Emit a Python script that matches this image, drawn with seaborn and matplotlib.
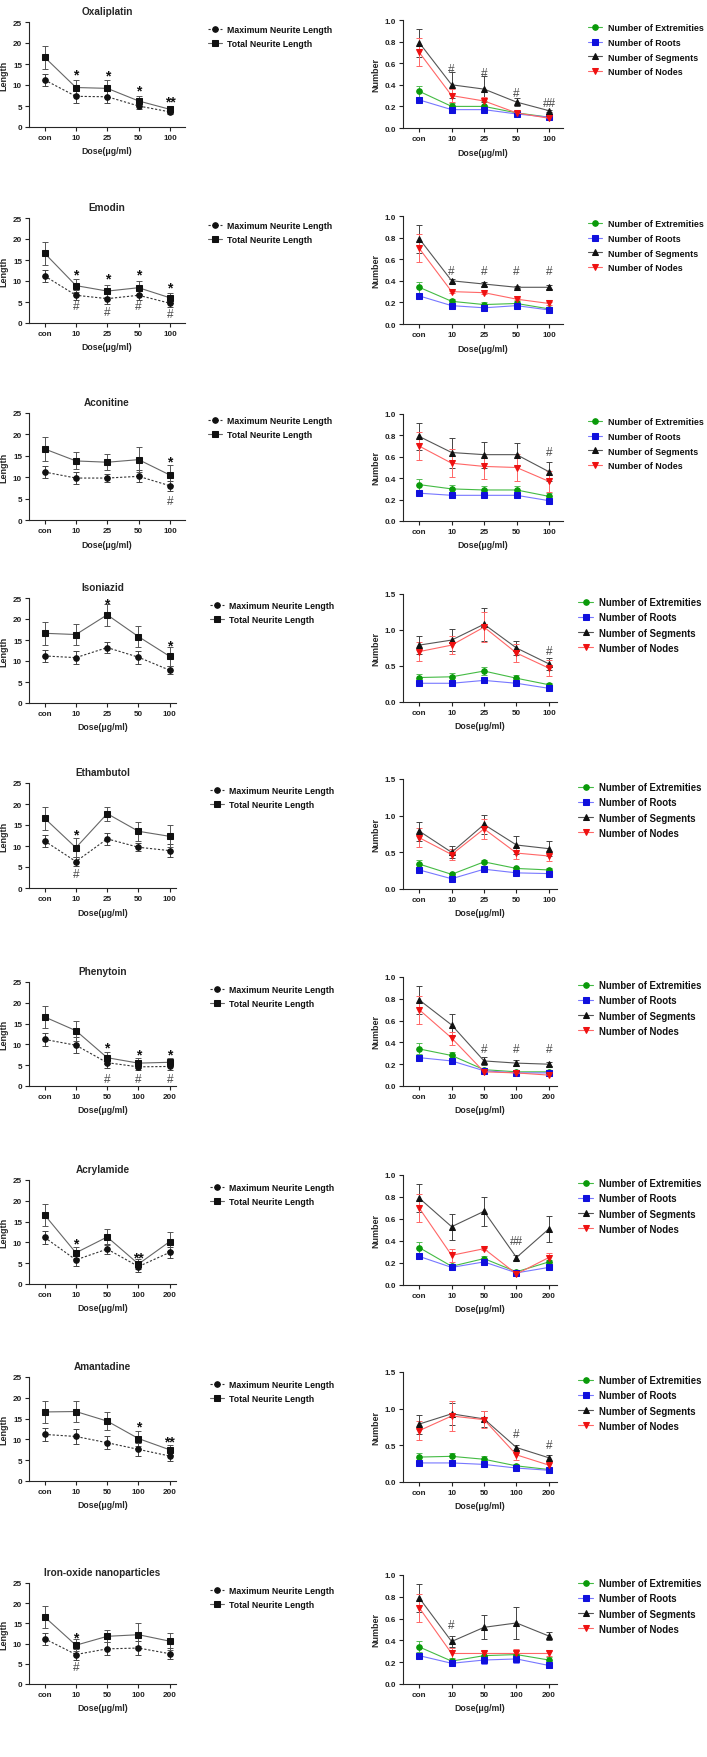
import matplotlib

matplotlib.use("Agg")
import matplotlib.pyplot as plt
import seaborn as sns

# ---- data ----
DRUGS = [
    "Oxaliplatin", "Emodin", "Aconitine", "Isoniazid", "Ethambutol",
    "Phenytoin", "Acrylamide", "Amantadine", "Iron-oxide nanoparticles",
]
DOSES_A = ["con", "10", "25", "50", "100"]
DOSES_B = ["con", "10", "50", "100", "200"]
DOSE_LABELS = {d: DOSES_A for d in DRUGS[:5]}
DOSE_LABELS.update({d: DOSES_B for d in DRUGS[5:]})

MAX_LEN = {
    "Oxaliplatin": [11.2, 7.3, 7.2, 5.0, 3.6],
    "Emodin": [11.2, 6.6, 5.8, 6.6, 4.7],
    "Aconitine": [11.2, 9.8, 9.8, 10.2, 8.0],
    "Isoniazid": [11.2, 10.8, 13.2, 10.9, 7.8],
    "Ethambutol": [11.2, 6.3, 11.7, 9.7, 8.9],
    "Phenytoin": [11.2, 9.8, 5.6, 4.6, 4.7],
    "Acrylamide": [11.2, 5.8, 8.4, 4.2, 7.6],
    "Amantadine": [11.2, 10.7, 9.2, 7.6, 6.0],
    "Iron-oxide nanoparticles": [11.2, 7.3, 8.7, 8.9, 7.5],
}
MAX_ERR = {
    "Oxaliplatin": [1.5, 1.5, 1.6, 0.8, 0.5],
    "Emodin": [1.5, 1.2, 1.2, 1.2, 0.8],
    "Aconitine": [1.5, 1.4, 1.0, 1.4, 1.2],
    "Isoniazid": [1.5, 1.6, 1.3, 1.5, 1.0],
    "Ethambutol": [1.5, 1.0, 1.5, 1.0, 1.6],
    "Phenytoin": [1.5, 1.9, 1.2, 0.8, 0.9],
    "Acrylamide": [1.5, 1.4, 1.2, 1.2, 1.4],
    "Amantadine": [1.5, 1.7, 1.5, 1.5, 1.3],
    "Iron-oxide nanoparticles": [1.5, 1.3, 1.6, 1.7, 1.3],
}
TOTAL_LEN = {
    "Oxaliplatin": [16.6, 9.4, 9.2, 6.2, 4.2],
    "Emodin": [16.6, 8.9, 7.6, 8.4, 6.0],
    "Aconitine": [16.6, 13.8, 13.5, 14.1, 10.5],
    "Isoniazid": [16.6, 16.3, 21.0, 15.8, 11.1],
    "Ethambutol": [16.6, 9.6, 17.7, 13.5, 12.3],
    "Phenytoin": [16.6, 13.3, 6.8, 5.5, 5.7],
    "Acrylamide": [16.6, 7.5, 11.3, 4.8, 10.2],
    "Amantadine": [16.6, 16.7, 14.4, 10.2, 7.5],
    "Iron-oxide nanoparticles": [16.6, 9.6, 11.8, 12.2, 10.6],
}
TOTAL_ERR = {
    "Oxaliplatin": [2.7, 1.8, 2.0, 1.3, 0.8],
    "Emodin": [2.7, 1.6, 1.4, 1.5, 1.2],
    "Aconitine": [2.7, 2.0, 1.9, 2.9, 2.3],
    "Isoniazid": [2.7, 2.4, 2.6, 2.5, 2.2],
    "Ethambutol": [2.7, 2.2, 1.7, 2.3, 2.6],
    "Phenytoin": [2.7, 2.4, 1.4, 1.2, 1.0],
    "Acrylamide": [2.7, 1.5, 2.0, 1.2, 2.2],
    "Amantadine": [2.7, 2.6, 2.2, 1.7, 1.2],
    "Iron-oxide nanoparticles": [2.7, 1.5, 1.5, 2.8, 2.1],
}

EXTREMITIES = {
    "Oxaliplatin": [0.34, 0.20, 0.20, 0.14, 0.10],
    "Emodin": [0.34, 0.21, 0.18, 0.19, 0.14],
    "Aconitine": [0.34, 0.30, 0.29, 0.29, 0.23],
    "Isoniazid": [0.34, 0.35, 0.43, 0.33, 0.24],
    "Ethambutol": [0.34, 0.20, 0.37, 0.28, 0.26],
    "Phenytoin": [0.34, 0.28, 0.15, 0.13, 0.13],
    "Acrylamide": [0.34, 0.17, 0.24, 0.12, 0.21],
    "Amantadine": [0.34, 0.35, 0.31, 0.22, 0.17],
    "Iron-oxide nanoparticles": [0.34, 0.21, 0.26, 0.27, 0.22],
}
EXT_ERR = {
    "Oxaliplatin": [0.05, 0.03, 0.05, 0.02, 0.01],
    "Emodin": [0.05, 0.02, 0.02, 0.02, 0.01],
    "Aconitine": [0.05, 0.04, 0.04, 0.04, 0.03],
    "Isoniazid": [0.05, 0.05, 0.05, 0.04, 0.03],
    "Ethambutol": [0.05, 0.02, 0.02, 0.02, 0.02],
    "Phenytoin": [0.05, 0.03, 0.01, 0.01, 0.01],
    "Acrylamide": [0.05, 0.01, 0.02, 0.01, 0.02],
    "Amantadine": [0.05, 0.05, 0.05, 0.02, 0.02],
    "Iron-oxide nanoparticles": [0.05, 0.03, 0.04, 0.03, 0.03],
}
ROOTS = {
    "Oxaliplatin": [0.26, 0.17, 0.17, 0.13, 0.10],
    "Emodin": [0.26, 0.17, 0.15, 0.17, 0.13],
    "Aconitine": [0.26, 0.24, 0.24, 0.24, 0.19],
    "Isoniazid": [0.26, 0.26, 0.30, 0.26, 0.19],
    "Ethambutol": [0.26, 0.14, 0.27, 0.22, 0.21],
    "Phenytoin": [0.26, 0.23, 0.14, 0.12, 0.12],
    "Acrylamide": [0.26, 0.16, 0.21, 0.11, 0.16],
    "Amantadine": [0.26, 0.26, 0.24, 0.19, 0.16],
    "Iron-oxide nanoparticles": [0.26, 0.19, 0.22, 0.23, 0.17],
}
ROOTS_ERR = {
    "Oxaliplatin": [0.02, 0.02, 0.02, 0.02, 0.01],
    "Emodin": [0.02, 0.01, 0.01, 0.01, 0.01],
    "Aconitine": [0.02, 0.02, 0.02, 0.02, 0.01],
    "Isoniazid": [0.02, 0.02, 0.03, 0.02, 0.02],
    "Ethambutol": [0.02, 0.02, 0.02, 0.02, 0.02],
    "Phenytoin": [0.02, 0.02, 0.01, 0.01, 0.01],
    "Acrylamide": [0.02, 0.01, 0.01, 0.01, 0.01],
    "Amantadine": [0.02, 0.02, 0.02, 0.02, 0.02],
    "Iron-oxide nanoparticles": [0.02, 0.02, 0.04, 0.04, 0.02],
}
SEGMENTS = {
    "Oxaliplatin": [0.79, 0.40, 0.36, 0.24, 0.16],
    "Emodin": [0.79, 0.40, 0.37, 0.34, 0.34],
    "Aconitine": [0.79, 0.64, 0.62, 0.62, 0.46],
    "Isoniazid": [0.79, 0.86, 1.08, 0.75, 0.53],
    "Ethambutol": [0.79, 0.50, 0.88, 0.60, 0.55],
    "Phenytoin": [0.79, 0.56, 0.23, 0.21, 0.20],
    "Acrylamide": [0.79, 0.53, 0.67, 0.25, 0.51],
    "Amantadine": [0.79, 0.93, 0.86, 0.47, 0.33],
    "Iron-oxide nanoparticles": [0.79, 0.39, 0.52, 0.56, 0.44],
}
SEG_ERR = {
    "Oxaliplatin": [0.13, 0.12, 0.12, 0.04, 0.01],
    "Emodin": [0.13, 0.02, 0.02, 0.01, 0.02],
    "Aconitine": [0.13, 0.14, 0.12, 0.11, 0.09],
    "Isoniazid": [0.13, 0.15, 0.23, 0.10, 0.08],
    "Ethambutol": [0.13, 0.08, 0.13, 0.12, 0.10],
    "Phenytoin": [0.13, 0.10, 0.04, 0.03, 0.02],
    "Acrylamide": [0.13, 0.12, 0.13, 0.02, 0.12],
    "Amantadine": [0.13, 0.15, 0.11, 0.04, 0.04],
    "Iron-oxide nanoparticles": [0.13, 0.05, 0.11, 0.15, 0.04],
}
NODES = {
    "Oxaliplatin": [0.70, 0.30, 0.25, 0.14, 0.09],
    "Emodin": [0.70, 0.30, 0.29, 0.23, 0.19],
    "Aconitine": [0.70, 0.54, 0.51, 0.50, 0.37],
    "Isoniazid": [0.70, 0.79, 1.04, 0.68, 0.47],
    "Ethambutol": [0.70, 0.47, 0.82, 0.49, 0.45],
    "Phenytoin": [0.70, 0.44, 0.13, 0.12, 0.10],
    "Acrylamide": [0.70, 0.27, 0.33, 0.10, 0.25],
    "Amantadine": [0.70, 0.90, 0.85, 0.37, 0.23],
    "Iron-oxide nanoparticles": [0.70, 0.28, 0.28, 0.28, 0.28],
}
NODES_ERR = {
    "Oxaliplatin": [0.13, 0.06, 0.04, 0.02, 0.01],
    "Emodin": [0.13, 0.01, 0.01, 0.01, 0.01],
    "Aconitine": [0.13, 0.13, 0.12, 0.13, 0.10],
    "Isoniazid": [0.13, 0.13, 0.21, 0.13, 0.11],
    "Ethambutol": [0.13, 0.08, 0.14, 0.08, 0.07],
    "Phenytoin": [0.13, 0.06, 0.01, 0.01, 0.01],
    "Acrylamide": [0.13, 0.06, 0.01, 0.02, 0.04],
    "Amantadine": [0.13, 0.21, 0.12, 0.07, 0.05],
    "Iron-oxide nanoparticles": [0.13, 0.05, 0.02, 0.04, 0.02],
}
RIGHT_YMAX = {
    "Oxaliplatin": 1.0, "Emodin": 1.0, "Aconitine": 1.0, "Isoniazid": 1.5,
    "Ethambutol": 1.5, "Phenytoin": 1.0, "Acrylamide": 1.0, "Amantadine": 1.5,
    "Iron-oxide nanoparticles": 1.0,
}

# significance marks: (dose index, y, text)
LEFT_MARKS = {
    "Oxaliplatin": [(1, 13.4, "*"), (2, 13.2, "*"), (3, 9.7, "*"), (4, 7.0, "**")],
    "Emodin": [(1, 12.5, "*"), (2, 11.6, "*"), (3, 12.5, "*"), (4, 9.3, "*"),
               (1, 4.2, "#"), (2, 3.0, "#"), (3, 4.2, "#"), (4, 2.4, "#")],
    "Aconitine": [(4, 14.7, "*"), (4, 4.8, "#")],
    "Isoniazid": [(2, 24.6, "*"), (4, 14.7, "*")],
    "Ethambutol": [(1, 13.7, "*"), (1, 3.6, "#")],
    "Phenytoin": [(2, 10.2, "*"), (3, 8.5, "*"), (4, 8.5, "*"),
                  (2, 1.9, "#"), (3, 1.9, "#"), (4, 1.9, "#")],
    "Acrylamide": [(1, 10.7, "*"), (3, 7.4, "**")],
    "Amantadine": [(3, 14.0, "*"), (4, 10.5, "**")],
    "Iron-oxide nanoparticles": [(1, 12.4, "*"), (1, 4.4, "#")],
}
RIGHT_MARKS = {
    "Oxaliplatin": [(1, 0.56, "#"), (2, 0.52, "#"), (3, 0.33, "#"), (4, 0.24, "##")],
    "Emodin": [(1, 0.50, "#"), (2, 0.50, "#"), (3, 0.50, "#"), (4, 0.50, "#")],
    "Aconitine": [(4, 0.66, "#")],
    "Isoniazid": [(4, 0.72, "#")],
    "Ethambutol": [],
    "Phenytoin": [(2, 0.35, "#"), (3, 0.35, "#"), (4, 0.35, "#")],
    "Acrylamide": [(3, 0.41, "##")],
    "Amantadine": [(3, 0.67, "#"), (4, 0.52, "#")],
    "Iron-oxide nanoparticles": [(1, 0.55, "#")],
}

# ---- layout in output pixels (axis top tick, axis bottom) ----
W, H = 707, 1758
LEFT_ROWS = [(23, 128), (219, 324), (414, 521), (599, 704), (784, 889),
             (983, 1087), (1181, 1285), (1378, 1482), (1584, 1685)]
RIGHT_ROWS = [(21, 129), (217, 325), (415, 522), (595, 703), (780, 890),
              (978, 1087), (1176, 1286), (1373, 1483), (1576, 1685)]

sns.set_style("ticks")
plt.rcParams["font.family"] = ["Liberation Sans", "DejaVu Sans"]
plt.rcParams["axes.linewidth"] = 0.8

fig = plt.figure(figsize=(W / 100, H / 100), dpi=100)


def px_axes(x0, top, x1, bottom):
    return fig.add_axes([x0 / W, 1 - bottom / H, (x1 - x0) / W, (bottom - top) / H])


def style_axis(ax, labels, ymax, step, ylabel, xr, fmt):
    ax.set_xlim(-0.5, xr)
    ax.set_ylim(0, ymax)
    ax.set_xticks(range(len(labels)))
    ax.set_xticklabels(labels)
    ticks = [i * step for i in range(int(round(ymax / step)) + 1)]
    ax.set_yticks(ticks)
    ax.set_yticklabels([fmt.format(t) for t in ticks])
    sns.despine(ax=ax)
    ax.tick_params(direction="out", length=3, width=0.8, labelsize=5.9, pad=2,
                   colors="#222222")
    for lab in ax.get_xticklabels() + ax.get_yticklabels():
        lab.set_fontweight("bold")
    ax.set_xlabel("Dose(μg/ml)", fontsize=6.3, fontweight="bold", labelpad=4)
    ax.set_ylabel(ylabel, fontsize=6.5, fontweight="bold", labelpad=3)
    ax.grid(False)


def series(ax, x, y, err, color, line_color, err_color, marker, ms, ls, label):
    ax.errorbar(x, y, yerr=err, fmt="none", ecolor=err_color, elinewidth=0.7,
                capsize=2, capthick=0.7, zorder=2)
    sns.lineplot(x=x, y=y, ax=ax, color=line_color, marker=marker, markersize=ms,
                 markerfacecolor=color, markeredgecolor=color, linewidth=0.8,
                 linestyle=ls, label=label, zorder=3, sort=False, errorbar=None)


def marks(ax, items):
    for xi, yi, txt in items:
        star = txt.startswith("*")
        fs = 10 if star else 8.5
        ax.annotate(txt, (xi, yi), xytext=(0, -(0.57 if star else 0.35) * fs),
                    textcoords="offset points", ha="center", va="baseline",
                    fontsize=fs, fontweight="bold" if star else "normal",
                    color="#111111" if star else "#4a4a4a", annotation_clip=False)


def legend(ax, x, y, fs, spacing):
    leg = ax.legend(loc="upper left", bbox_to_anchor=(x / W, 1 - y / H),
                    bbox_transform=fig.transFigure, frameon=False, borderpad=0,
                    borderaxespad=0, handlelength=1.6, handletextpad=0.6,
                    labelspacing=spacing, prop={"weight": "bold", "size": fs})
    for t in leg.get_texts():
        t.set_color("#111111")


for i, drug in enumerate(DRUGS):
    labels = DOSE_LABELS[drug]
    x = list(range(len(labels)))
    first = i < 3

    # left panel: neurite length
    top, bottom = LEFT_ROWS[i]
    ax = px_axes(29, top, 185 if first else 176, bottom)
    series(ax, x, MAX_LEN[drug], MAX_ERR[drug], "#111111", "#333333", "#444444",
           "o", 4.0, (0, (2.0, 1.6)), "Maximum Neurite Length")
    series(ax, x, TOTAL_LEN[drug], TOTAL_ERR[drug], "#111111", "#666666", "#555555",
           "s", 4.2, "-", "Total Neurite Length")
    style_axis(ax, labels, 25, 5, "Length", 4.48 if first else 4.2, "{:g}")
    ax.set_title(drug, fontsize=7.2, fontweight="bold", pad=6)
    marks(ax, LEFT_MARKS[drug])
    legend(ax, 208 if first else 210, top + 3, 6.3, 0.62)

    # right panel: counts
    top, bottom = RIGHT_ROWS[i]
    ax = px_axes(403, top, 563 if first else 557, bottom)
    series(ax, x, EXTREMITIES[drug], EXT_ERR[drug], "#0a9a0a", "#44bb44", "#55bb55",
           "o", 4.0, "-", "Number of Extremities")
    series(ax, x, ROOTS[drug], ROOTS_ERR[drug], "#1010dd", "#7777ff", "#7777ff",
           "s", 4.0, "-", "Number of Roots")
    series(ax, x, SEGMENTS[drug], SEG_ERR[drug], "#111111", "#555555", "#444444",
           "^", 4.0, "-", "Number of Segments")
    series(ax, x, NODES[drug], NODES_ERR[drug], "#ee1111", "#ff6666", "#ff6666",
           "v", 4.0, "-", "Number of Nodes")
    ymax = RIGHT_YMAX[drug]
    style_axis(ax, labels, ymax, 0.2 if ymax == 1.0 else 0.5, "Number",
               4.43 if first else 4.25, "{:.1f}")
    marks(ax, RIGHT_MARKS[drug])
    legend(ax, 588 if first else 578, top + 3, 6.4 if first else 6.9,
           0.65 if first else 0.55)

fig.savefig("out.png", dpi=100)
